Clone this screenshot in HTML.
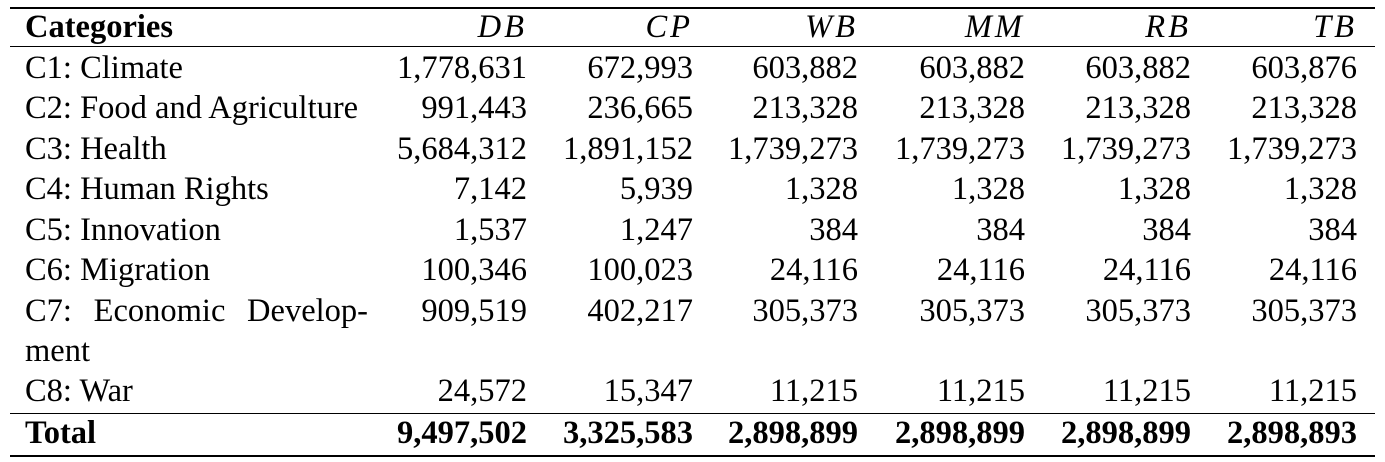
<!DOCTYPE html>
<html><head><meta charset="utf-8"><style>
body{margin:0;width:1385px;height:462px;background:#fff;overflow:hidden;font-family:"Liberation Serif",serif;font-size:32.5px;color:#000}
.r{position:absolute;left:0;width:1385px;height:40px;line-height:40px}
.c{position:absolute;top:0;white-space:nowrap}
.l{left:25px}
.n{text-align:right}
.rule{position:absolute;left:10px;width:1365px;background:#000}
.h .n{font-style:italic;letter-spacing:3px}
.b{font-weight:bold}
</style></head><body>
<div class="rule" style="top:7px;height:1.5px"></div>
<div class="rule" style="top:46px;height:1px"></div>
<div class="rule" style="top:413px;height:1px"></div>
<div class="rule" style="top:455px;height:1.5px"></div>
<div id="t"></div>
<script>
const cols=["DB","CP","WB","MM","RB","TB"];
const rights=[527,693,858,1025,1191,1357];
const rows=[
["C1: Climate","1,778,631","672,993","603,882","603,882","603,882","603,876"],
["C2: Food and Agriculture","991,443","236,665","213,328","213,328","213,328","213,328"],
["C3: Health","5,684,312","1,891,152","1,739,273","1,739,273","1,739,273","1,739,273"],
["C4: Human Rights","7,142","5,939","1,328","1,328","1,328","1,328"],
["C5: Innovation","1,537","1,247","384","384","384","384"],
["C6: Migration","100,346","100,023","24,116","24,116","24,116","24,116"],
["C7:","909,519","402,217","305,373","305,373","305,373","305,373"],
["ment","","","","","",""],
["C8: War","24,572","15,347","11,215","11,215","11,215","11,215"]];
const total=["Total","9,497,502","3,325,583","2,898,899","2,898,899","2,898,899","2,898,893"];
const centers=[68,108,149,189,230,270,311,351,391];
const t=document.getElementById('t');
function mk(cells,cy,cls,name){
 const r=document.createElement('div');r.className='r '+cls;r.style.top=(cy-20)+'px';
 
 
 cells.forEach((v,i)=>{
  const c=document.createElement('div');
  if(i==0){c.className='c l';
   if(v==="C7:"){c.style.width='343px';c.style.display='flex';c.style.justifyContent='space-between';c.innerHTML='<span>C7:</span><span>Economic</span><span>Develop-</span>';}
   else c.textContent=v;}
  else{c.className='c n';c.style.right=(1385-rights[i-1])+'px';c.textContent=v;}
  
  
  r.appendChild(c);});
 t.appendChild(r);}
mk(["Categories"].concat(cols),27,'h','header-row');
t.lastChild.firstChild.classList.add('b');
rows.forEach((row,i)=>mk(row,centers[i],'','row-'+(i+1)));
mk(total,433,'b','total-row');
</script>
</body></html>
